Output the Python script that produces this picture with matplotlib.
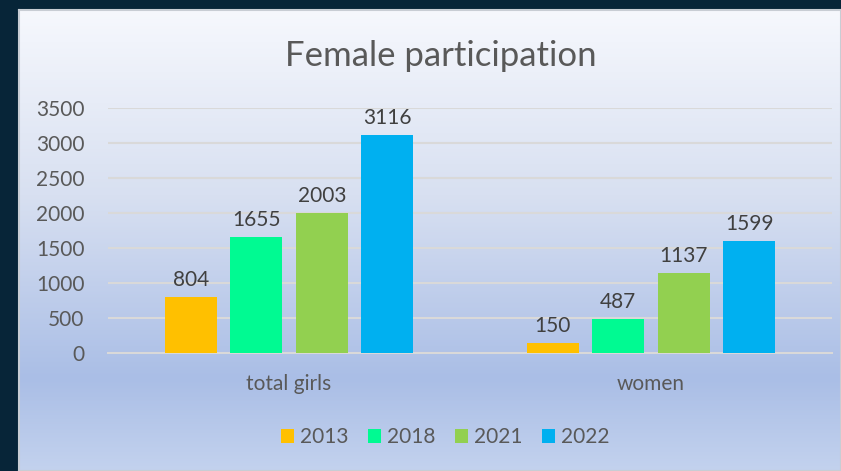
import numpy as np
import matplotlib
matplotlib.use('Agg')
import matplotlib.pyplot as plt
from matplotlib.colors import LinearSegmentedColormap

categories = ['total girls', 'women']
years = ['2013', '2018', '2021', '2022']
values = {
    '2013': [804, 150],
    '2018': [1655, 487],
    '2021': [2003, 1137],
    '2022': [3116, 1599],
}
colors = ['#FFC000', '#00FA92', '#92D050', '#00B0F0']

plt.rcParams['font.family'] = ['Lato', 'DejaVu Sans']
text_col = '#595959'

W, H = 841, 471
fig = plt.figure(figsize=(W / 100, H / 100), dpi=100)
fig.patch.set_facecolor('#072538')

# chart panel with vertical gradient
panel = fig.add_axes([19 / W, 0, (W - 19) / W, (H - 10) / H])
grad = LinearSegmentedColormap.from_list(
    'bg', [(0, '#f6f8fd'), (0.4, '#d8e0f1'), (0.8, '#aabee6'), (1.0, '#c3d2ee')])
panel.imshow(np.linspace(0, 1, 256).reshape(-1, 1), aspect='auto', cmap=grad,
             extent=[0, 1, 0, 1], origin='upper')
panel.set_xlim(0, 1)
panel.set_ylim(0, 1)
panel.set_xticks([])
panel.set_yticks([])
for s in panel.spines.values():
    s.set_color('#c8cdd4')
    s.set_linewidth(1.5)

ax = fig.add_axes([108 / W, (H - 353) / H, (832 - 108) / W, (353 - 108) / H])
ax.patch.set_alpha(0)

x = np.arange(len(categories))
width = 0.143
step = 0.181
for i, yr in enumerate(years):
    pos = x + (i - 1.5) * step
    bars = ax.bar(pos, values[yr], width, color=colors[i], label=yr, zorder=3)
    ax.bar_label(bars, padding=5, fontsize=15, color='#404040')

ax.set_xlim(-0.5, 1.5)
ax.set_ylim(0, 3500)
ax.set_yticks(range(0, 3501, 500))
ax.set_xticks(x)
ax.set_xticklabels(categories)
ax.grid(axis='y', color='#d9d9d9', linewidth=1.5, zorder=0)
ax.tick_params(axis='y', length=0, pad=17, labelsize=15, labelcolor=text_col)
ax.tick_params(axis='x', length=0, pad=15, labelsize=15, labelcolor=text_col)
for side in ['top', 'right', 'left']:
    ax.spines[side].set_visible(False)
ax.spines['bottom'].set_color('#d9d9d9')
ax.spines['bottom'].set_linewidth(1.5)

fig.text(441 / W, (H - 56) / H, 'Female participation', ha='center', va='center',
         fontsize=25, color=text_col)

handles, labels = ax.get_legend_handles_labels()
fig.legend(handles, labels, loc='center', bbox_to_anchor=(445 / W, (H - 437) / H),
           ncol=4, frameon=False, fontsize=15, labelcolor=text_col,
           handlelength=0.65, handleheight=0.65, handletextpad=0.25, columnspacing=0.95)

fig.savefig('out.png', dpi=100, facecolor=fig.get_facecolor())
